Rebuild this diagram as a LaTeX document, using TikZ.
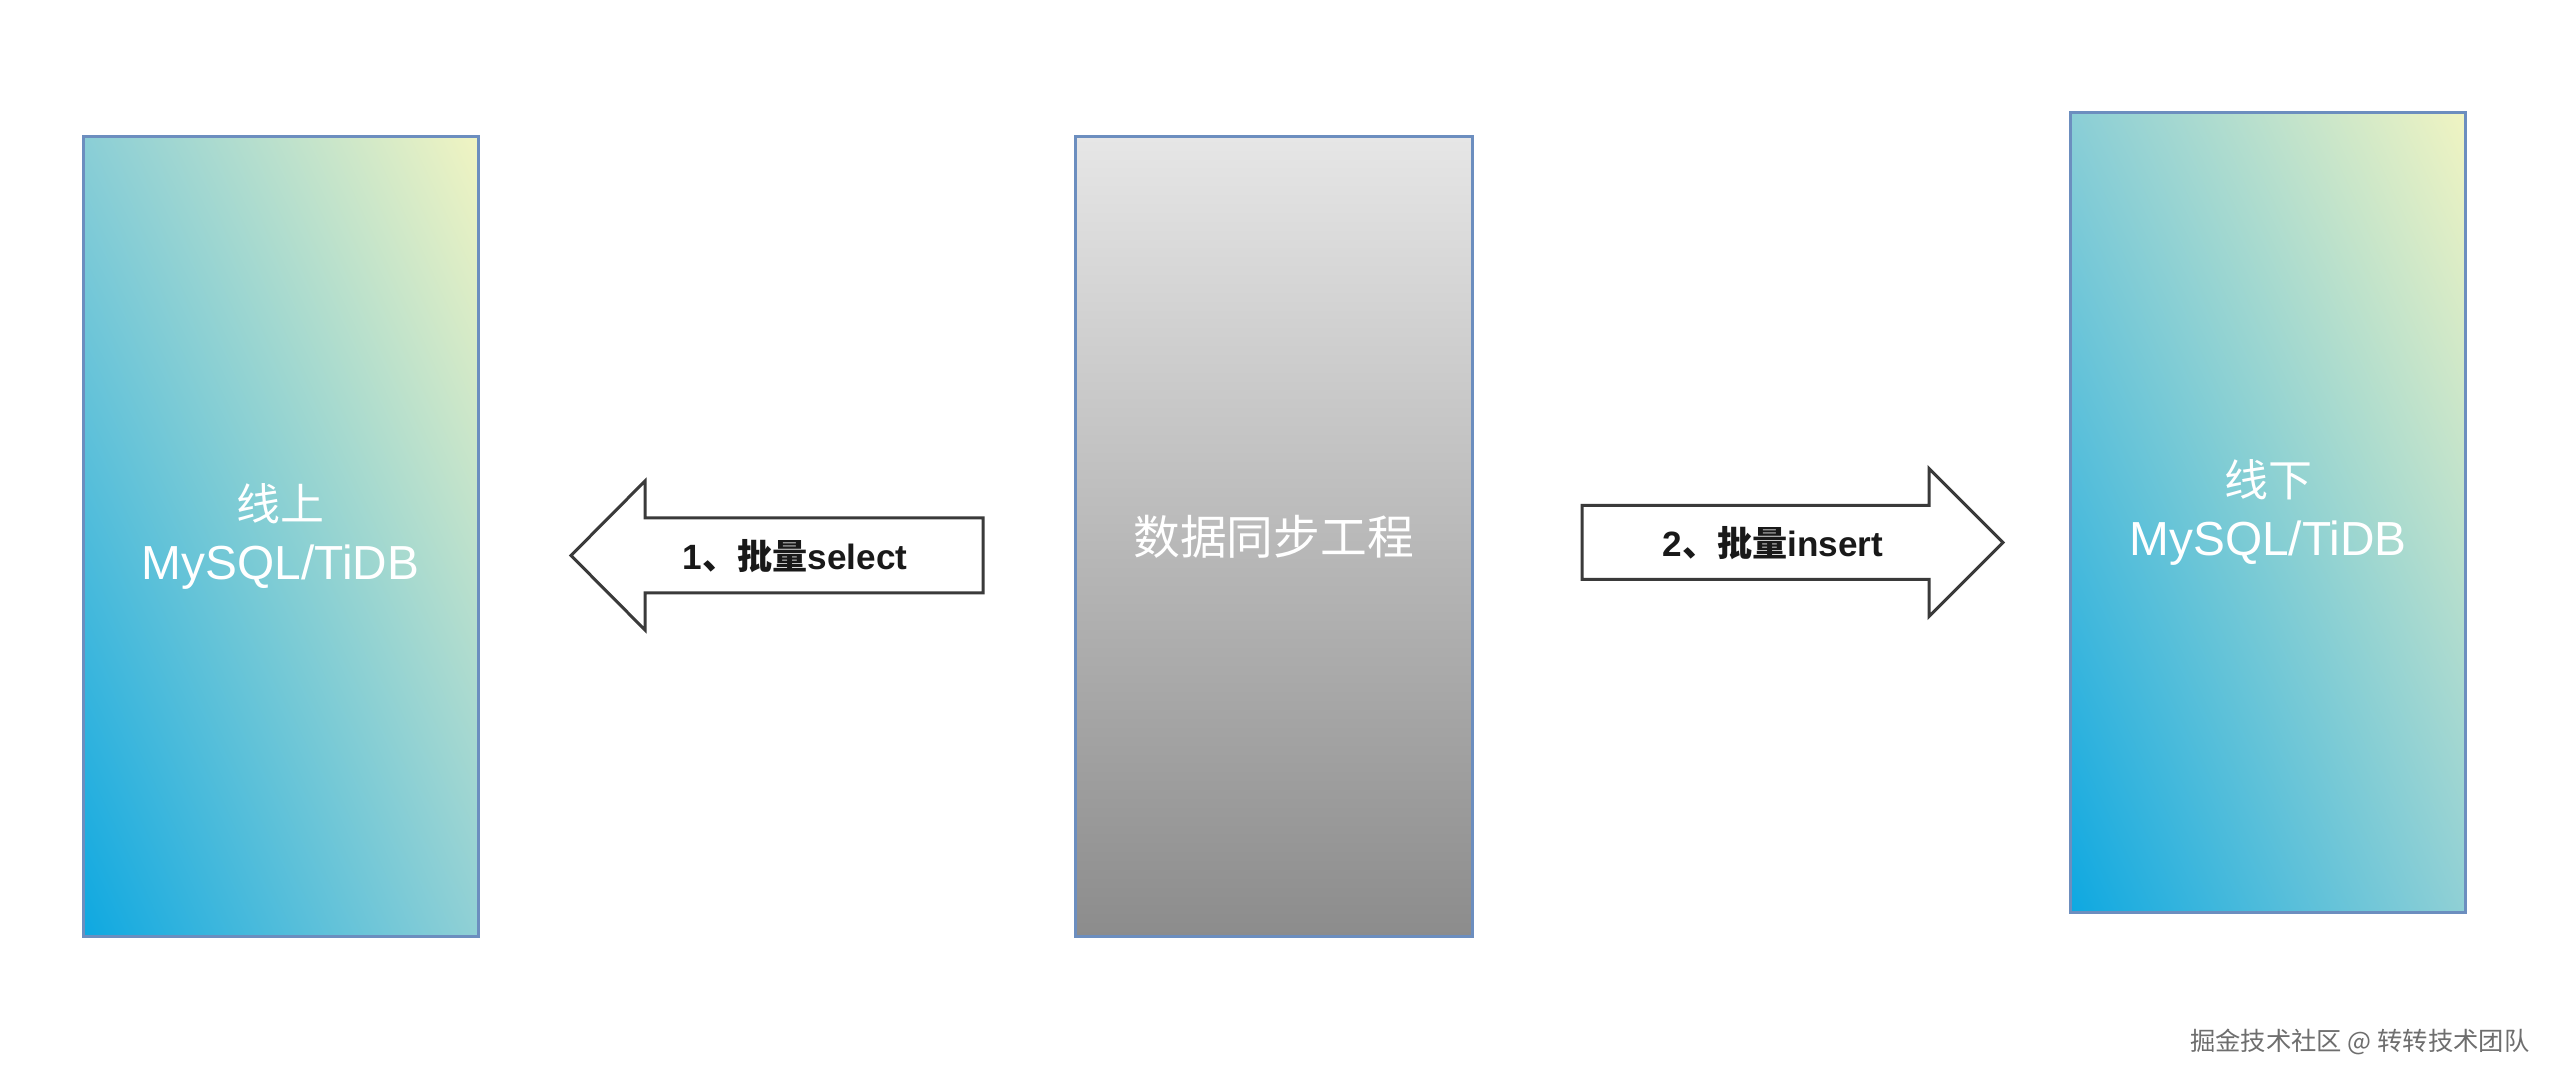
\documentclass[tikz,border=0pt]{standalone}
\usepackage{fontspec}
\usetikzlibrary{shadings}
\setmainfont{Liberation Sans}
\newfontfamily\cjk{Noto Sans CJK SC}
\definecolor{boxborder}{RGB}{108,142,191}
\definecolor{cBL}{RGB}{14,168,225}
\definecolor{cTL}{RGB}{138,206,214}
\definecolor{cBR}{RGB}{144,208,213}
\definecolor{cTR}{RGB}{240,244,194}
\definecolor{gtop}{RGB}{230,230,230}
\definecolor{gbot}{RGB}{140,140,140}
\definecolor{arrowline}{RGB}{58,58,58}
\definecolor{wmark}{RGB}{110,110,110}
\newcommand{\cjkbig}[1]{{\fontsize{12.5}{17}\selectfont\cjk #1}}
\tikzset{
  dbbox/.style={rectangle, draw=boxborder, line width=0.03cm,
    minimum width=3.95cm, minimum height=7.99cm, inner sep=0pt,
    upper left=cTL, upper right=cTR, lower left=cBL, lower right=cBR,
    text=white, align=center, font=\fontsize{13.6}{17}\selectfont},
  syncbox/.style={rectangle, draw=boxborder, line width=0.03cm,
    minimum width=3.97cm, minimum height=7.99cm, inner sep=0pt,
    top color=gtop, bottom color=gbot,
    text=white, font=\fontsize{13.3}{16}\selectfont\cjk},
  blockarrow/.style={draw=arrowline, fill=white, line width=0.03cm, line join=miter},
  arrowlabel/.style={font=\fontsize{10}{12}\selectfont\bfseries, text=black!90, inner sep=0pt},
}
\begin{document}
\begin{tikzpicture}
\useasboundingbox[fill=white] (0,0) rectangle (25.6,10.82);

% boxes
\node[dbbox] (online) at (2.805,5.455) {\cjkbig{线上}\\MySQL/TiDB};
\node[syncbox] (sync) at (12.735,5.455) {数据同步工程};
\node[dbbox] (offline) at (22.68,5.695) {\cjkbig{线下}\\MySQL/TiDB};

% left block arrow (points to online db)
\coordinate (ltip) at (5.71,5.265);
\draw[blockarrow] (ltip) -- ++(0.74,0.745) -- ++(0,-0.37) -- (9.83,5.64)
  -- (9.83,4.89) -- (6.45,4.89) -- (6.45,4.52) -- cycle;
\node[arrowlabel] (sel) at (7.95,5.255) {1{\cjk\bfseries 、批量}select};

% right block arrow (points to offline db)
\coordinate (rtip) at (20.03,5.395);
\draw[blockarrow] (15.82,5.765) -- (19.29,5.765) -- (19.29,6.135) -- (rtip)
  -- (19.29,4.655) -- (19.29,5.025) -- (15.82,5.025) -- cycle;
\node[arrowlabel] (ins) at (17.73,5.39) {2{\cjk\bfseries 、批量}insert};

% watermark
\node[anchor=east, inner sep=0pt, text=wmark, font=\fontsize{7.2}{9}\selectfont\cjk] (wm) at (25.30,0.40) {掘金技术社区 @ 转转技术团队};
\end{tikzpicture}
\end{document}
